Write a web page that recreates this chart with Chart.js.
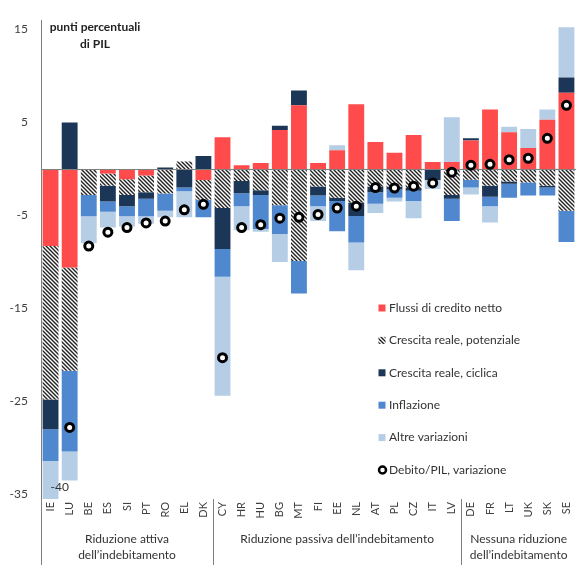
<!DOCTYPE html>
<html>
<head>
<meta charset="utf-8">
<script src="https://cdn.jsdelivr.net/npm/chart.js@4"></script>
<style>
    body { margin: 0; background: #fff; }
    #wrap { width: 583px; height: 565px; }
</style>
</head>
<body>
<div id="wrap"><canvas id="debtChart" width="583" height="565"></canvas></div>
<script>
// ===== Data (punti percentuali di PIL) =====
const countries = ['IE','LU','BE','ES','SI','PT','RO','EL','DK','CY','HR','HU','BG','MT','FI','EE','NL','AT','PL','CZ','IT','LV','DE','FR','LT','UK','SK','SE'];

const creditFlows = [-8.3,-10.6,0,-0.5,-1.1,-0.7,0,0,-1.2,3.4,0.4,0.65,4.2,6.85,0.65,2.0,6.95,2.9,1.75,3.65,0.75,0.75,3.05,6.4,3.95,2.25,5.3,8.2];
const potentialGrowth = [-16.5,-11.1,-2.8,-1.3,-1.7,-1.8,-2.65,0.8,-2.1,-4.2,-1.3,-2.3,-3.9,-9.9,-1.9,-3.1,-3.6,-1.9,-1.9,-2.05,0,-2.8,-1.15,-1.8,-1.35,-1.45,-1.8,-4.5];
const cyclicalGrowth = [-3.2,5.0,0,-1.7,-1.2,-0.7,0.15,-2.0,1.4,-4.4,-1.3,-0.5,0.45,1.6,-0.95,-0.35,-1.45,-0.6,-0.3,-0.3,-1.2,-0.4,0.25,-1.2,-0.25,0,-0.2,1.65];
const inflation = [-3.4,-8.7,-2.3,-1.1,-1.1,-1.9,-1.85,-0.4,-1.9,-3.0,-1.4,-3.65,-3.1,-3.5,-1.15,-3.25,-2.85,-1.25,-0.9,-1.1,0,-2.4,-0.85,-1.0,-1.5,-1.4,-0.85,-3.35];
const otherChanges = [-8.6,-3.1,-2.9,-1.7,-1.1,-0.8,-0.7,-2.8,0,-12.8,-2.6,-0.3,-3.0,0,-1.6,0.55,-3.0,-1.0,-0.4,-1.85,-0.95,4.8,-0.75,-1.75,0.6,2.05,1.1,5.4];
const debtChange = [-40,-27.8,-8.3,-6.8,-6.3,-5.8,-5.6,-4.4,-3.8,-20.3,-6.3,-6.0,-5.3,-5.2,-4.9,-4.2,-4.0,-2.0,-2.05,-1.85,-1.5,-0.35,0.4,0.5,1.0,1.15,3.3,6.85];

const yTicks = [15, 5, -5, -15, -25, -35];
const yMin = -35.5, yMax = 16;

const groups = [
    { lines: ['Riduzione attiva', 'dell’indebitamento'], from: 0, to: 8 },
    { lines: ['Riduzione passiva dell’indebitamento'], from: 9, to: 21 },
    { lines: ['Nessuna riduzione', 'dell’indebitamento'], from: 22, to: 27 }
];
const unitTitle = ['punti percentuali', 'di PIL'];

// hatch for "crescita reale, potenziale"
function makeHatch() {
    const c = document.createElement('canvas');
    c.width = 4; c.height = 4;
    const g = c.getContext('2d');
    g.fillStyle = '#fff';
    g.fillRect(0, 0, 4, 4);
    g.strokeStyle = '#222';
    g.lineWidth = 1.4;
    g.beginPath();
    g.moveTo(-1, -1); g.lineTo(5, 5);
    g.moveTo(-1, 3); g.lineTo(1, 5);
    g.moveTo(3, -1); g.lineTo(5, 1);
    g.stroke();
    return g.createPattern(c, 'repeat');
}
const hatch = makeHatch();

const FONT = 'Lato, "Open Sans", sans-serif';
Chart.defaults.font.family = FONT;
Chart.defaults.font.size = 12;
Chart.defaults.color = '#404040';

const decorPlugin = {
    id: 'decor',
    afterDatasetDraw(chart, args) {
        if (args.index !== 0) return;
        const { ctx, chartArea, scales: { y } } = chart;
        const y0 = Math.round(y.getPixelForValue(0)) + 0.5;
        ctx.save();
        ctx.strokeStyle = '#808080';
        ctx.lineWidth = 1;
        ctx.beginPath();
        ctx.moveTo(chartArea.left, y0);
        ctx.lineTo(chartArea.right, y0);
        ctx.stroke();
        ctx.restore();
    },
    afterDraw(chart) {
        const { ctx, chartArea, scales: { x, y } } = chart;
        ctx.save();

        // unit title
        ctx.fillStyle = '#222';
        ctx.font = 'bold 12px ' + FONT;
        ctx.textAlign = 'center';
        ctx.textBaseline = 'middle';
        ctx.fillText(unitTitle[0], 95, 27);
        ctx.fillText(unitTitle[1], 95, 44);

        // group separators + labels
        ctx.strokeStyle = '#808080';
        ctx.lineWidth = 1;
        ctx.fillStyle = '#333';
        ctx.font = '12px ' + FONT;
        groups.forEach(g => {
            const l = x.getPixelForValue(g.from - 0.5);
            const r = Math.min(x.getPixelForValue(g.to + 0.5), chart.width);
            const lx = Math.round(l) + 0.5;
            ctx.beginPath();
            ctx.moveTo(lx, chartArea.bottom);
            ctx.lineTo(lx, chart.height);
            ctx.stroke();
            g.lines.forEach((t, i) => ctx.fillText(t, (l + r) / 2, 539 + i * 16.5));
        });

        // values beyond the axis
        ctx.textAlign = 'left';
        debtChange.forEach((v, i) => {
            if (v < yMin) ctx.fillText(String(v), x.getPixelForValue(i), chartArea.bottom - 12);
        });

        // legend
        const ds = chart.data.datasets;
        ds.forEach((d, i) => {
            const ly = 308 + i * 32.4;
            if (d.type === 'line') {
                ctx.beginPath();
                ctx.arc(382.5, ly, 3.5, 0, Math.PI * 2);
                ctx.fillStyle = '#fff';
                ctx.fill();
                ctx.lineWidth = 2.5;
                ctx.strokeStyle = '#000';
                ctx.stroke();
            } else {
                ctx.fillStyle = d.backgroundColor;
                ctx.fillRect(378.5, ly - 3.5, 7, 7);
            }
            ctx.fillStyle = '#333';
            ctx.textBaseline = 'middle';
            ctx.fillText(d.label, 389, ly);
        });
        ctx.restore();
    }
};

const barCommon = { borderWidth: 0, barPercentage: 0.83, categoryPercentage: 1, order: 1 };

new Chart(document.getElementById('debtChart'), {
    type: 'bar',
    data: {
        labels: countries,
        datasets: [
            { label: 'Flussi di credito netto', data: creditFlows, backgroundColor: '#ff4b4b', ...barCommon },
            { label: 'Crescita reale, potenziale', data: potentialGrowth, backgroundColor: hatch, ...barCommon },
            { label: 'Crescita reale, ciclica', data: cyclicalGrowth, backgroundColor: '#1c3657', ...barCommon },
            { label: 'Inflazione', data: inflation, backgroundColor: '#4f88cf', ...barCommon },
            { label: 'Altre variazioni', data: otherChanges, backgroundColor: '#b6cde6', ...barCommon },
            {
                type: 'line', label: 'Debito/PIL, variazione', data: debtChange, yAxisID: 'y2',
                showLine: false, order: 0,
                pointRadius: 4, pointHoverRadius: 4, pointBorderWidth: 3,
                pointBorderColor: '#000', pointBackgroundColor: '#fff'
            }
        ]
    },
    options: {
        responsive: false,
        animation: false,
        devicePixelRatio: 1,
        layout: { padding: { top: 13, left: 0, right: 0, bottom: 0 } },
        plugins: { legend: { display: false }, tooltip: { enabled: false } },
        scales: {
            x: {
                stacked: true,
                grid: { display: false, drawTicks: false },
                border: { display: false },
                ticks: { maxRotation: 90, minRotation: 90, padding: 3, autoSkip: false, color: '#404040', font: { size: 11 } },
                afterFit: s => { s.height = 66; }
            },
            y: {
                stacked: true,
                min: yMin, max: yMax,
                grid: { display: false, drawTicks: false },
                border: { display: true, color: '#808080' },
                ticks: { padding: 13, color: '#404040' },
                afterBuildTicks: s => { s.ticks = yTicks.map(v => ({ value: v })); },
                afterFit: s => { s.width = 41; }
            },
            y2: { display: false, min: yMin, max: yMax }
        }
    },
    plugins: [decorPlugin]
});
</script>
</body>
</html>
